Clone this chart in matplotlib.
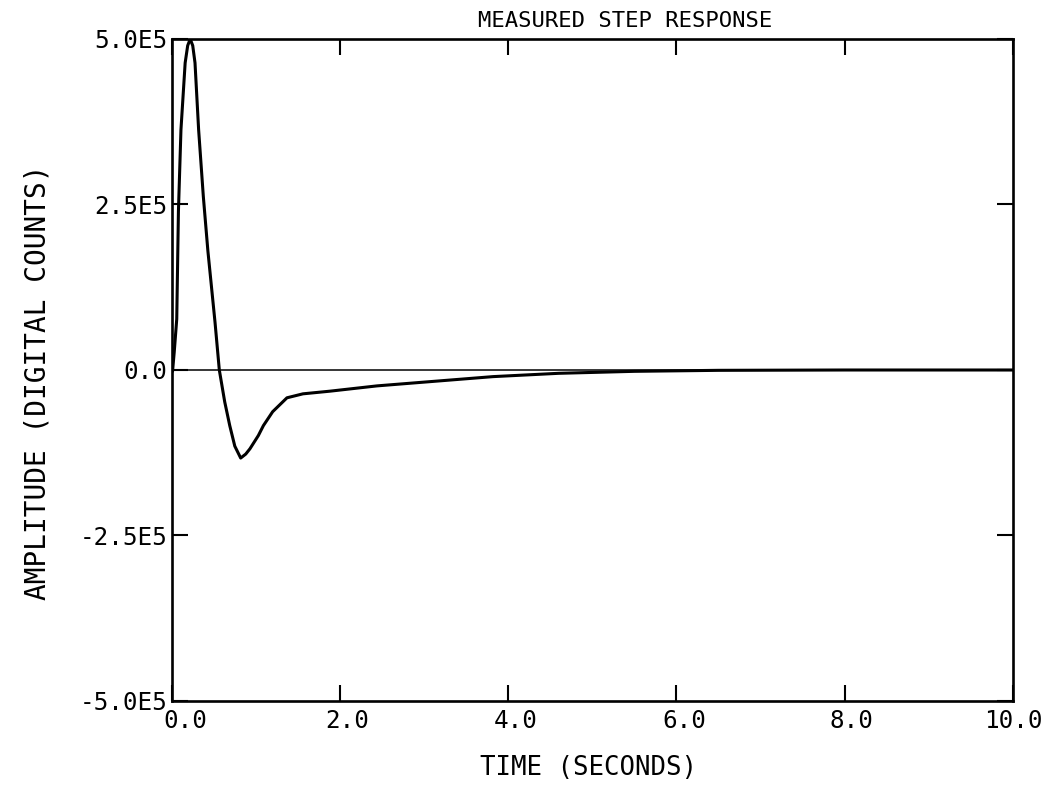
import matplotlib
matplotlib.use("Agg")
import matplotlib.pyplot as plt
from matplotlib.transforms import ScaledTranslation

plt.rcParams['font.family'] = ['DejaVu Sans Mono']
plt.rcParams['axes.unicode_minus'] = False

# Time (seconds) and amplitude (digital counts)
time_s = [0.0, 0.01, 0.03, 0.06, 0.08, 0.11, 0.16, 0.19, 0.22, 0.25, 0.277,
          0.32, 0.376, 0.43, 0.515, 0.566, 0.63, 0.69, 0.75, 0.82, 0.88,
          0.93, 1.03, 1.09, 1.2, 1.37, 1.56, 1.88, 2.44, 3.03, 3.82, 4.6,
          5.5, 6.5, 8.0, 10.0]
amplitude = [0.0, -0.02e5, 0.27e5, 0.77e5, 2.4e5, 3.63e5, 4.64e5, 4.9e5,
             5.0e5, 4.9e5, 4.64e5, 3.63e5, 2.62e5, 1.8e5, 0.72e5, 0.0,
             -0.48e5, -0.84e5, -1.15e5, -1.33e5, -1.27e5, -1.19e5, -0.99e5,
             -0.84e5, -0.63e5, -0.42e5, -0.36e5, -0.32e5, -0.24e5, -0.18e5,
             -0.10e5, -0.05e5, -0.02e5, -0.005e5, 0.0, 0.0]

x_ticks = [0, 2, 4, 6, 8, 10]
x_labels = ["0.0", "2.0", "4.0", "6.0", "8.0", "10.0"]
y_ticks = [-5e5, -2.5e5, 0, 2.5e5, 5e5]
y_labels = ["-5.0E5", "-2.5E5", "0.0", "2.5E5", "5.0E5"]

W, H = 1051, 786
fig = plt.figure(figsize=(W / 100, H / 100), dpi=100)
ax = fig.add_axes([171.7 / W, 1 - 701 / H, (1013 - 171.7) / W, (701 - 39) / H])

ax.axhline(0, color='black', lw=1.1, zorder=2)
ax.plot(time_s, amplitude, color='black', lw=2.2, zorder=3)

ax.set_xlim(0, 10)
ax.set_ylim(-5e5, 5e5)
ax.set_xticks(x_ticks)
ax.set_xticklabels(x_labels)
ax.set_yticks(y_ticks)
ax.set_yticklabels(y_labels)

ax.tick_params(direction='in', length=11.5, width=1.5, top=True, right=True,
               labelsize=17.5, colors='black')
ax.tick_params(axis='x', pad=6)
ax.tick_params(axis='y', pad=3)
for s in ax.spines.values():
    s.set_linewidth(1.9)

# small horizontal offsets of the x tick labels as in the reference
shifts_px = [14, 7, 7, 8, 7, 0]
for lab, dx in zip(ax.get_xticklabels(), shifts_px):
    lab.set_transform(lab.get_transform() +
                      ScaledTranslation(dx / 100, 0, fig.dpi_scale_trans))

fig.text(625 / W, 1 - 21 / H, "MEASURED STEP RESPONSE", ha='center',
         va='center', fontsize=16)
fig.text(588 / W, 1 - 768 / H, "TIME (SECONDS)", ha='center', va='center',
         fontsize=18.5)
fig.text(38 / W, 1 - 382 / H, "AMPLITUDE (DIGITAL COUNTS)", ha='center',
         va='center', rotation=90, fontsize=20)

fig.savefig("out.png", dpi=100)
